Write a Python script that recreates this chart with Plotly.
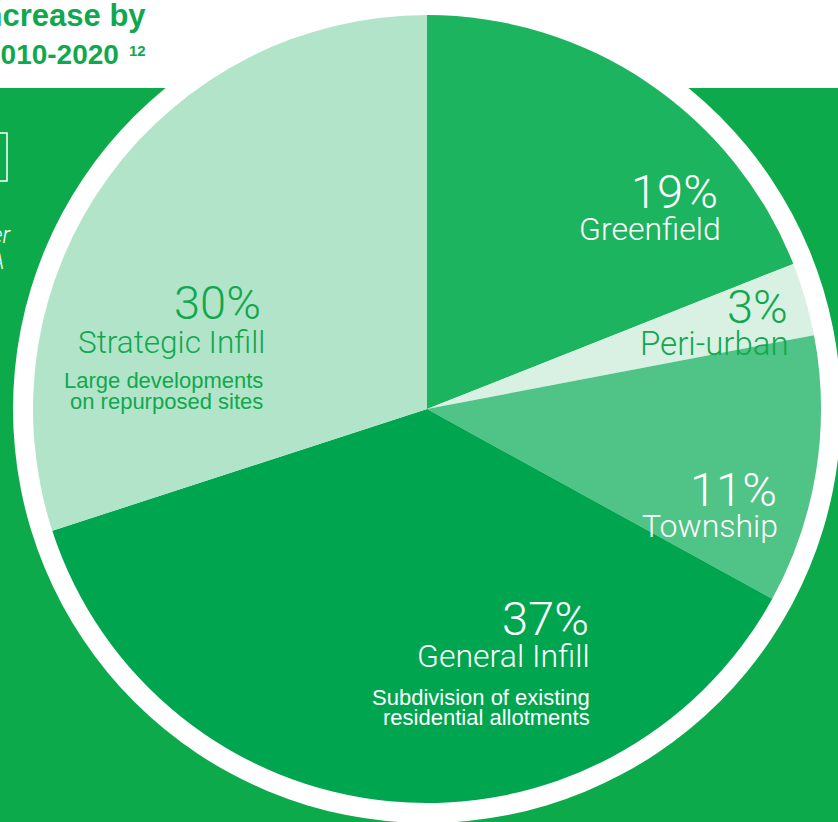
import plotly.graph_objects as go

W, H = 838, 822

# ---- data -------------------------------------------------------------
categories = ["Greenfield", "Peri-urban", "Township", "General Infill", "Strategic Infill"]
shares = [19, 3, 11, 37, 30]
notes = [
    [],
    [],
    [],
    ["Subdivision of existing", "residential allotments"],
    ["Large developments", "on repurposed sites"],
]
title_lines = ["increase by", "2010-2020"]
title_note = "12"

# ---- styling ----------------------------------------------------------
BG_GREEN = "#0daa4b"
TEXT_GREEN = "#10a84f"
slice_colors = ["#1db45f", "#d9f1e3", "#50c386", "#00a64f", "#b2e4c9"]
label_colors = ["white", TEXT_GREEN, "white", "white", TEXT_GREEN]

LIGHT = "Roboto"
SANS = "Liberation Sans, Arial, sans-serif"

# label anchor points (pixels, right edge of right-aligned text)
label_pos = [
    dict(pct_x=720, pct_y=191, name_x=723, name_y=229, name_size=32),
    dict(pct_x=790, pct_y=307, name_x=791, name_y=343, name_size=33),
    dict(pct_x=779, pct_y=489, name_x=780, name_y=526, name_size=32),
    dict(pct_x=591, pct_y=618, name_x=592, name_y=656, name_size=32,
         note_x=592, note_y=[697, 717]),
    dict(pct_x=263, pct_y=302, name_x=267, name_y=342, name_size=31.5,
         note_x=265, note_y=[381, 401]),
]
PCT_SIZE = 47
NOTE_SIZE = 22

cx, cy, r = 427, 409, 394   # pie centre and radius
ring_r = 414                # outer edge of the white ring


def px(x):
    return x / W


def py(y):
    return 1 - y / H


fig = go.Figure(
    go.Pie(
        labels=categories,
        values=shares,
        sort=False,
        direction="clockwise",
        rotation=0,
        marker=dict(colors=slice_colors, line=dict(width=0)),
        textinfo="none",
        hoverinfo="label+percent",
        domain=dict(x=[px(cx - r), px(cx + r)], y=[py(cy + r), py(cy - r)]),
        showlegend=False,
    )
)

shapes = [
    # green panel behind the chart
    dict(type="rect", xref="paper", yref="paper", x0=0, x1=1, y0=0, y1=py(88),
         fillcolor=BG_GREEN, line=dict(width=0), layer="below"),
    # white ring around the pie
    dict(type="circle", xref="paper", yref="paper",
         x0=px(cx - ring_r), x1=px(cx + ring_r), y0=py(cy + ring_r), y1=py(cy - ring_r),
         fillcolor="white", line=dict(width=0), layer="below"),
    # outlined box on the left panel
    dict(type="rect", xref="paper", yref="paper", x0=px(-20), x1=px(7), y0=py(181), y1=py(133),
         fillcolor="rgba(0,0,0,0)", line=dict(color="white", width=1.5), layer="below"),
]

annotations = []


def add_text(text, x, y, size, color, family, weight="normal", style="normal"):
    annotations.append(dict(
        text=text, xref="paper", yref="paper", x=px(x), y=py(y),
        xanchor="right", yanchor="middle", align="right", showarrow=False,
        font=dict(size=size, color=color, family=family, weight=weight, style=style),
    ))


for name, val, note_lines, col, pos in zip(categories, shares, notes, label_colors, label_pos):
    add_text(f"{val}%", pos["pct_x"], pos["pct_y"], PCT_SIZE, col, LIGHT, weight=300)
    add_text(name, pos["name_x"], pos["name_y"], pos["name_size"], col, LIGHT, weight=300)
    for line, ly in zip(note_lines, pos.get("note_y", [])):
        add_text(line, pos["note_x"], ly, NOTE_SIZE, col, SANS)

# heading (runs off the left edge)
add_text(title_lines[0], 148, 15.5, 31, TEXT_GREEN, SANS, weight="bold")
add_text(title_lines[1], 121, 55, 28, TEXT_GREEN, SANS, weight="bold")
add_text(title_note, 148, 50, 15, TEXT_GREEN, SANS, weight="bold")

# text fragments on the left panel
add_text("er", 14, 236, 23, "white", LIGHT, weight=300, style="italic")
add_text("A", 6, 261, 22, "white", LIGHT, weight=300, style="italic")

fig.update_layout(
    width=W,
    height=H,
    margin=dict(l=0, r=0, t=0, b=0),
    paper_bgcolor="white",
    plot_bgcolor="white",
    shapes=shapes,
    annotations=annotations,
)

fig.write_html("out.html")
